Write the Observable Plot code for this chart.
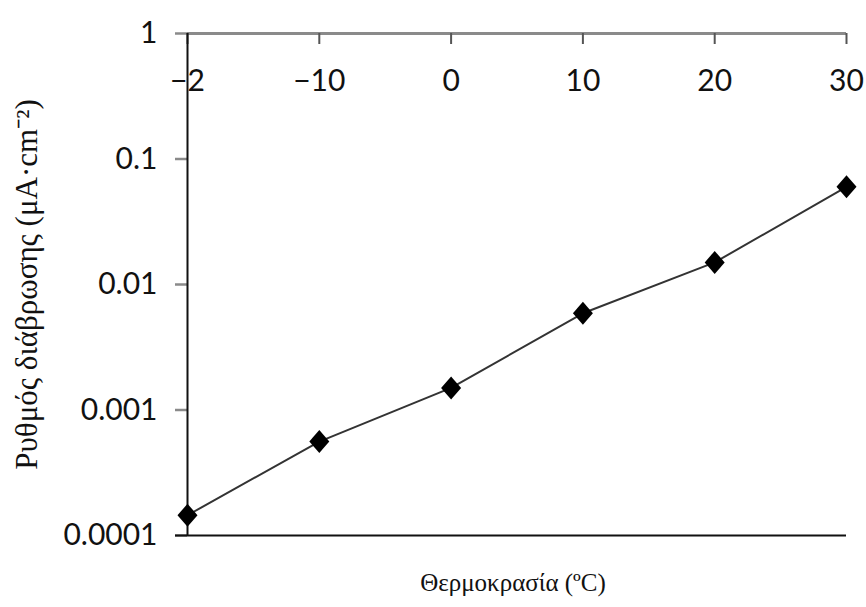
<!DOCTYPE html>
<html>
<head>
<meta charset="utf-8">
<script src="https://cdn.jsdelivr.net/npm/d3@7"></script>
<script src="https://cdn.jsdelivr.net/npm/@observablehq/plot@0.6"></script>
<style>
  html, body { margin: 0; padding: 0; background: #fff; }
  text.axis-title { font-family: "Liberation Serif", "Times New Roman", serif !important; }
</style>
</head>
<body>
<div id="chart"></div>
<script>
// Data
const temps = [-20, -10, 0, 10, 20, 30];
const rates = [0.000145, 0.00056, 0.0015, 0.0059, 0.015, 0.06];

// Tick values and labels
const xTicks = [-20, -10, 0, 10, 20, 30];
const xTickLabels = ["\u22122", "\u221210", "0", "10", "20", "30"];
const yTicks = [1, 0.1, 0.01, 0.001, 0.0001];
const yTickLabels = ["1", "0.1", "0.01", "0.001", "0.0001"];

const xTitle = "Θερμοκρασία (ºC)";
const yTitle = "Ρυθμός διάβρωσης (μA·cm⁻²)";

const data = temps.map((t, i) => ({t, r: rates[i]}));
const yLabelMap = new Map(yTicks.map((v, i) => [v, yTickLabels[i]]));

const diamond = {
  draw(ctx, size) {
    const s = Math.sqrt(size / Math.PI);
    const h = s * 1.15, w = s;
    ctx.moveTo(0, -h);
    ctx.lineTo(w, 0);
    ctx.lineTo(0, h);
    ctx.lineTo(-w, 0);
    ctx.closePath();
  }
};

const tickFont = "Lato, 'Open Sans', sans-serif";
const titleFont = "Liberation Serif";

const plot = Plot.plot({
  width: 866,
  height: 607,
  marginLeft: 187,
  marginRight: 20,
  marginTop: 33,
  marginBottom: 72,
  style: {background: "#fff"},
  x: {domain: [-20, 30], axis: null},
  y: {type: "log", domain: [0.0001, 1], axis: null},
  marks: [
    // y axis ticks & labels
    Plot.axisY({
      ticks: yTicks,
      tickFormat: d => yLabelMap.get(d),
      tickSize: 12,
      tickPadding: 18,
      stroke: "#8a8a8a",
      strokeWidth: 2.5,
      fill: "#111",
      fontSize: 30,
      fontFamily: tickFont,
      label: null
    }),
    // top frame line (grey)
    Plot.ruleY([1], {stroke: "#8a8a8a", strokeWidth: 3}),
    // top x ticks (pointing inward)
    Plot.tickX(xTicks, {x: d => d, stroke: "#555", strokeWidth: 2, insetBottom: 491}),
    // top x tick labels
    Plot.text(xTicks, {
      x: d => d,
      frameAnchor: "top",
      dy: 36,
      text: (d, i) => xTickLabels[i],
      fontSize: 30,
      fontFamily: tickFont,
      fill: "#111"
    }),
    // bottom axis line
    Plot.ruleY([0.0001], {stroke: "#111", strokeWidth: 2, x1: -20, x2: 30, insetLeft: -12}),
    // left axis line
    Plot.ruleX([-20], {stroke: "#111", strokeWidth: 2}),
    // data line
    Plot.line(data, {x: "t", y: "r", stroke: "#333", strokeWidth: 2}),
    Plot.dot(data, {x: "t", y: "r", symbol: diamond, r: 10, fill: "#000", stroke: "none"}),
    // axis titles
    Plot.text([xTitle], {
      frameAnchor: "bottom",
      dy: 47,
      dx: -4,
      text: d => d,
      fontSize: 25,
      textAnchor: "middle",
      lineAnchor: "middle",
      fontFamily: titleFont,
      fill: "#111"
    }),
    Plot.text([yTitle], {
      frameAnchor: "left",
      dx: -160,
      dy: 0,
      rotate: -90,
      text: d => d,
      fontSize: 31,
      textAnchor: "middle",
      lineAnchor: "middle",
      fontFamily: titleFont,
      fill: "#111"
    })
  ]
});

// mark the two axis titles so the serif face is applied to them
d3.select(plot).selectAll("text")
  .filter(function () { return this.textContent === xTitle || this.textContent === yTitle; })
  .classed("axis-title", true)
  .style("font-family", "'Liberation Serif', 'Times New Roman', serif");

document.getElementById("chart").appendChild(plot);
</script>
</body>
</html>
